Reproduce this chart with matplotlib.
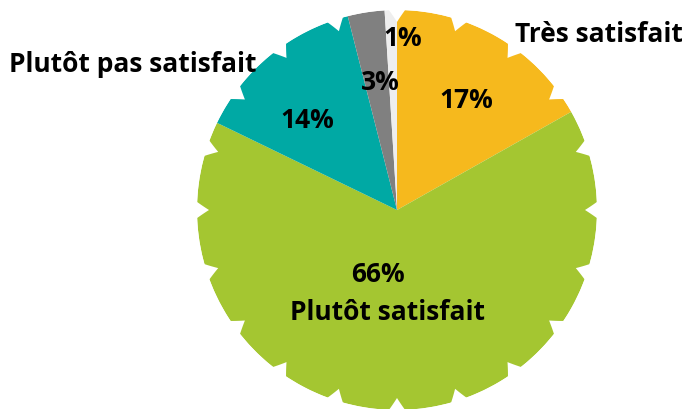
import numpy as np
import matplotlib
matplotlib.use("Agg")
import matplotlib.pyplot as plt
from matplotlib.patches import Polygon

labels = ["Très satisfait", "Plutôt satisfait", "Plutôt pas satisfait", "Pas satisfait", "Sans avis"]
values = [17, 66, 14, 3, 1]
pct_text = ["17%", "66%", "14%", "3%", "1%"]
colors = ["#F6B91D", "#A4C631", "#00A9A4", "#808080", "#EEEEEE"]

W, H = 687, 409
cx, cy, R = 397, 210, 200  # pie centre / radius in pixels


def to_data(px, py):
    return (px - cx) / R, (cy - py) / R


fig = plt.figure(figsize=(W / 100, H / 100), dpi=100)
ax = fig.add_axes([0, 0, 1, 1])

wedges, _ = ax.pie(values, colors=colors, startangle=90, counterclock=False,
                   radius=1.0, normalize=True,
                   wedgeprops=dict(linewidth=0, antialiased=True))

# pie() resets the limits, so set them afterwards
ax.set_xlim(-cx / R, (W - cx) / R)
ax.set_ylim(-(H - cy) / R, cy / R)
ax.set_aspect("equal")
ax.axis("off")

# notched outline: small V cuts every 18 degrees
n_teeth = 20
depth = 0.06
half_w = np.deg2rad(2.3)
theta = np.linspace(0, 2 * np.pi, 3600, endpoint=False)
step = 2 * np.pi / n_teeth
d = np.abs((theta + step / 2) % step - step / 2)
r = 1.0 - depth * np.clip(1 - d / half_w, 0, 1)
outline = Polygon(np.column_stack([r * np.cos(theta), r * np.sin(theta)]),
                  closed=True, facecolor="none", edgecolor="none")
ax.add_patch(outline)
for w in wedges:
    w.set_clip_on(True)  # pie wedges come with clip_on=False
    w.set_clip_path(outline)

font = dict(family=["Open Sans", "DejaVu Sans"], fontweight="bold", fontsize=19, color="black")

# percentage labels
pct_pos = [(466, 101), (378, 275), (307, 121), (380, 83), (403, 39)]
for t, (px, py) in zip(pct_text, pct_pos):
    ax.text(*to_data(px, py), t, ha="center", va="center", **font)

# category labels
ax.text(*to_data(599, 34), labels[0], ha="center", va="center", **font)
ax.text(*to_data(388, 313), labels[1], ha="center", va="center", **font)
ax.text(*to_data(133, 64), labels[2], ha="center", va="center", **font)

fig.savefig("out.png", dpi=100)
